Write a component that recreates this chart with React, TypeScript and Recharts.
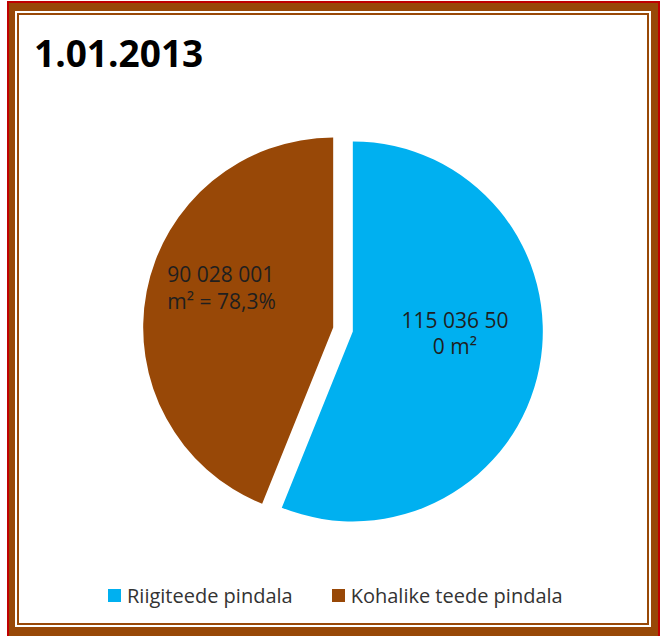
import { Cell, Legend, Pie, PieChart } from "recharts";

const title = "1.01.2013";
const categories = ["Riigiteede pindala", "Kohalike teede pindala"];
const areas = [115036500, 90028001];
const sliceColors = ["#00B0F0", "#984807"];
const sliceLabels = [
  ["115 036 50", "0 m²"],
  ["90 028 001", "m² = 78,3%"],
];

const FONT = "'Open Sans', sans-serif";
const BROWN = "#984807";
const RADIAN = Math.PI / 180;

const data = categories.map((name, i) => ({ name, value: areas[i] }));
const total = areas.reduce((a, b) => a + b, 0);

// pie centre and how far each slice is pulled out
const CX = 343;
const CY = 329.5;
const EXPLODE = 10;

const sliceCentres = areas.map((v, i) => {
  const before = areas.slice(0, i).reduce((a, b) => a + b, 0);
  const mid = 90 - (360 * (before + v / 2)) / total;
  return {
    cx: CX + EXPLODE * Math.cos(mid * RADIAN),
    cy: CY - EXPLODE * Math.sin(mid * RADIAN),
  };
});

const renderLabel = (only: number) => (props: any) => {
  const { cx, cy, midAngle, index } = props;
  if (index !== only) return null;
  const lines = sliceLabels[index];
  if (index === 0) {
    const r = 104;
    const x = cx + r * Math.cos(-midAngle * RADIAN);
    const y = cy + r * Math.sin(-midAngle * RADIAN);
    return (
      <text x={x} y={y} textAnchor="middle" fill="#1f1f1f" fontFamily={FONT} fontSize={21}>
        <tspan x={x} y={y - 23}>{lines[0]}</tspan>
        <tspan x={x} y={y + 3}>{lines[1]}</tspan>
      </text>
    );
  }
  const r = 115;
  const x = cx + r * Math.cos(-midAngle * RADIAN) - 53;
  const y = cy + r * Math.sin(-midAngle * RADIAN);
  return (
    <text x={x} y={y} textAnchor="start" fill="#1f1f1f" fontFamily={FONT} fontSize={21}>
      <tspan x={x} y={y - 24}>{lines[0]}</tspan>
      <tspan x={x} y={y + 3}>{lines[1]}</tspan>
    </text>
  );
};

const renderLegend = () => (
  <div style={{ display: "flex", marginLeft: 108, fontFamily: FONT, fontSize: 20, color: "#333" }}>
    {categories.map((name, i) => (
      <div key={name} style={{ display: "flex", alignItems: "center", marginRight: 39 }}>
        <span style={{ display: "inline-block", width: 13, height: 13, background: sliceColors[i], marginRight: 6 }} />
        {name}
      </div>
    ))}
  </div>
);

function Frame() {
  const box = (left: number, top: number, width: number, height: number, background: string) => (
    <div style={{ position: "absolute", left, top, width, height, background }} />
  );
  return (
    <>
      {box(7, 1, 653, 660, "#c00000")}
      {box(9, 3, 649, 660, BROWN)}
      {box(15, 11, 636, 616, "#ffffff")}
      {box(17, 13, 632, 612, BROWN)}
      {box(19, 15, 628, 608, "#ffffff")}
    </>
  );
}

export default function App() {
  return (
    <div style={{ position: "absolute", left: 0, top: 0, width: 663, height: 636, overflow: "hidden", background: "#fff" }}>
      <Frame />
      <div
        style={{
          position: "absolute",
          left: 34,
          top: 27,
          fontFamily: FONT,
          fontWeight: 700,
          fontSize: 37,
          color: "#000",
          lineHeight: "normal",
        }}
      >
        {title}
      </div>
      <div style={{ position: "absolute", left: 0, top: 0 }}>
        <PieChart width={663} height={636} margin={{ top: 0, right: 0, bottom: 0, left: 0 }}>
          {sliceCentres.map((c, s) => (
            <Pie
              key={s}
              data={data}
              dataKey="value"
              nameKey="name"
              cx={c.cx}
              cy={c.cy}
              outerRadius={190}
              startAngle={90}
              endAngle={-270}
              stroke="none"
              labelLine={false}
              label={renderLabel(s)}
              legendType="none"
              isAnimationActive={false}
            >
              {data.map((d, i) => (
                <Cell key={d.name} fill={i === s ? sliceColors[i] : "transparent"} />
              ))}
            </Pie>
          ))}
          <Legend
            verticalAlign="bottom"
            content={renderLegend}
            wrapperStyle={{ top: 582, bottom: "auto", left: 0, width: 663 }}
          />
        </PieChart>
      </div>
    </div>
  );
}
